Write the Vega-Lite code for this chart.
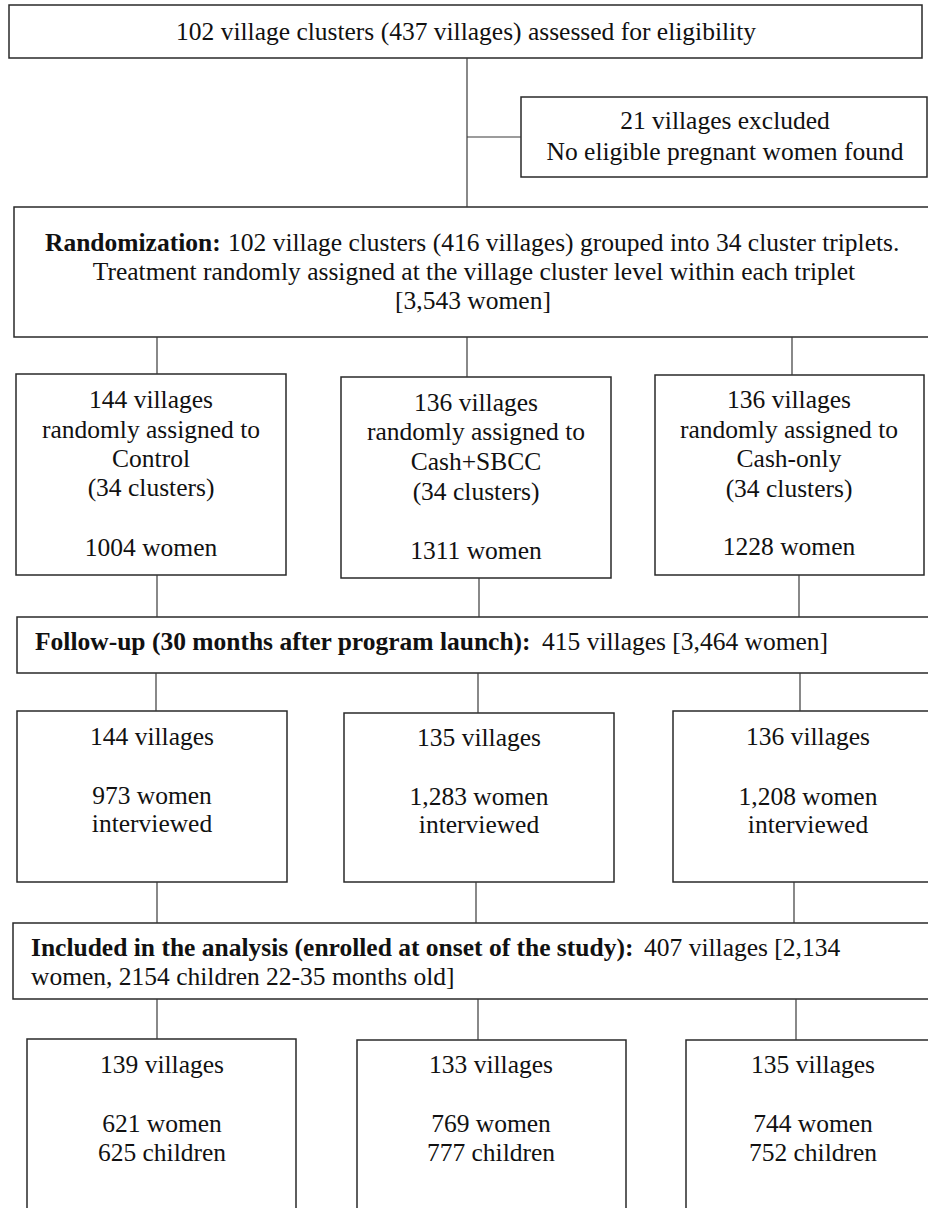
{
  "$schema": "https://vega.github.io/schema/vega-lite/v6.json",
  "width": 928,
  "height": 1208,
  "padding": 0,
  "autosize": {"type": "fit", "contains": "padding"},
  "background": "white",
  "config": {"view": {"stroke": null}},
  "datasets": {
    "boxes": [
      {"id": "screen", "x1": 9, "x2": 922, "y1": 5, "y2": 58},
      {"id": "excluded", "x1": 521, "x2": 927, "y1": 97, "y2": 177},
      {"id": "random", "x1": 14, "x2": 932, "y1": 207, "y2": 337},
      {"id": "control", "x1": 16, "x2": 286, "y1": 374, "y2": 575},
      {"id": "cashsbcc", "x1": 341, "x2": 611, "y1": 377, "y2": 578},
      {"id": "cashonly", "x1": 655, "x2": 924, "y1": 375, "y2": 575},
      {"id": "followup", "x1": 17, "x2": 935, "y1": 617, "y2": 673},
      {"id": "fu_control", "x1": 17, "x2": 287, "y1": 711, "y2": 882},
      {"id": "fu_cashsbcc", "x1": 344, "x2": 614, "y1": 713, "y2": 882},
      {"id": "fu_cashonly", "x1": 673, "x2": 943, "y1": 711, "y2": 882},
      {"id": "included", "x1": 13, "x2": 935, "y1": 923, "y2": 999},
      {"id": "an_control", "x1": 27, "x2": 296, "y1": 1039, "y2": 1225},
      {"id": "an_cashsbcc", "x1": 357, "x2": 626, "y1": 1040, "y2": 1225},
      {"id": "an_cashonly", "x1": 686, "x2": 940, "y1": 1040, "y2": 1225}
    ],
    "links": [
      {"x1": 467, "y1": 58, "x2": 467, "y2": 207},
      {"x1": 467, "y1": 137, "x2": 521, "y2": 137},
      {"x1": 157, "y1": 337, "x2": 157, "y2": 374},
      {"x1": 467, "y1": 337, "x2": 467, "y2": 377},
      {"x1": 792, "y1": 337, "x2": 792, "y2": 375},
      {"x1": 157, "y1": 575, "x2": 157, "y2": 617},
      {"x1": 479, "y1": 578, "x2": 479, "y2": 617},
      {"x1": 799, "y1": 575, "x2": 799, "y2": 617},
      {"x1": 156, "y1": 673, "x2": 156, "y2": 711},
      {"x1": 478, "y1": 673, "x2": 478, "y2": 713},
      {"x1": 800, "y1": 673, "x2": 800, "y2": 711},
      {"x1": 157, "y1": 882, "x2": 157, "y2": 923},
      {"x1": 476, "y1": 882, "x2": 476, "y2": 923},
      {"x1": 794, "y1": 882, "x2": 794, "y2": 923},
      {"x1": 157, "y1": 999, "x2": 157, "y2": 1039},
      {"x1": 478, "y1": 999, "x2": 478, "y2": 1040},
      {"x1": 796, "y1": 999, "x2": 796, "y2": 1040}
    ],
    "centered": [
      {"x": 466, "y": 32, "t": "102 village clusters (437 villages) assessed for eligibility"},
      {"x": 725, "y": 121, "t": "21 villages excluded"},
      {"x": 725, "y": 152, "t": "No eligible pregnant women found"},
      {"x": 474, "y": 272, "t": "Treatment randomly assigned at the village cluster level within each triplet"},
      {"x": 473, "y": 301, "t": "[3,543 women]"},
      {"x": 151, "y": 400, "t": "144 villages"},
      {"x": 151, "y": 430, "t": "randomly assigned to"},
      {"x": 151, "y": 459, "t": "Control"},
      {"x": 151, "y": 488, "t": "(34 clusters)"},
      {"x": 151, "y": 548, "t": "1004 women"},
      {"x": 476, "y": 403, "t": "136 villages"},
      {"x": 476, "y": 432, "t": "randomly assigned to"},
      {"x": 476, "y": 462, "t": "Cash+SBCC"},
      {"x": 476, "y": 492, "t": "(34 clusters)"},
      {"x": 476, "y": 551, "t": "1311 women"},
      {"x": 789, "y": 400, "t": "136 villages"},
      {"x": 789, "y": 430, "t": "randomly assigned to"},
      {"x": 789, "y": 459, "t": "Cash-only"},
      {"x": 789, "y": 489, "t": "(34 clusters)"},
      {"x": 789, "y": 547, "t": "1228 women"},
      {"x": 152, "y": 737, "t": "144 villages"},
      {"x": 152, "y": 796, "t": "973 women"},
      {"x": 152, "y": 824, "t": "interviewed"},
      {"x": 479, "y": 738, "t": "135 villages"},
      {"x": 479, "y": 797, "t": "1,283 women"},
      {"x": 479, "y": 825, "t": "interviewed"},
      {"x": 808, "y": 737, "t": "136 villages"},
      {"x": 808, "y": 797, "t": "1,208 women"},
      {"x": 808, "y": 825, "t": "interviewed"},
      {"x": 162, "y": 1065, "t": "139 villages"},
      {"x": 162, "y": 1124, "t": "621 women"},
      {"x": 162, "y": 1153, "t": "625 children"},
      {"x": 491, "y": 1065, "t": "133 villages"},
      {"x": 491, "y": 1124, "t": "769 women"},
      {"x": 491, "y": 1153, "t": "777 children"},
      {"x": 813, "y": 1065, "t": "135 villages"},
      {"x": 813, "y": 1124, "t": "744 women"},
      {"x": 813, "y": 1153, "t": "752 children"}
    ],
    "leftplain": [
      {"x": 228, "y": 243, "t": "102 village clusters (416 villages) grouped into 34 cluster triplets."},
      {"x": 542, "y": 642, "t": "415 villages [3,464 women]"},
      {"x": 644, "y": 948, "t": "407 villages [2,134"},
      {"x": 31, "y": 977, "t": "women, 2154 children 22-35 months old]"}
    ],
    "leftbold": [
      {"x": 45, "y": 243, "t": "Randomization:"},
      {"x": 35, "y": 642, "t": "Follow-up (30 months after program launch):"},
      {"x": 31, "y": 948, "t": "Included in the analysis (enrolled at onset of the study):"}
    ]
  },
  "layer": [
    {
      "data": {"name": "boxes"},
      "mark": {"type": "rect", "fill": "white", "stroke": "#2a2a2a", "strokeWidth": 1.5, "clip": true},
      "encoding": {
        "x": {"field": "x1", "type": "quantitative", "scale": {"domain": [0, 928], "nice": false, "zero": false}, "axis": null},
        "x2": {"field": "x2"},
        "y": {"field": "y1", "type": "quantitative", "scale": {"domain": [0, 1208], "nice": false, "zero": false, "reverse": true}, "axis": null},
        "y2": {"field": "y2"}
      }
    },
    {
      "data": {"name": "links"},
      "mark": {"type": "rule", "stroke": "#3a3a3a", "strokeWidth": 1.2, "clip": true},
      "encoding": {
        "x": {"field": "x1", "type": "quantitative"},
        "x2": {"field": "x2"},
        "y": {"field": "y1", "type": "quantitative"},
        "y2": {"field": "y2"}
      }
    },
    {
      "data": {"name": "centered"},
      "mark": {"type": "text", "font": "Liberation Serif", "fontSize": 25.5, "align": "center", "baseline": "middle", "color": "#111"},
      "encoding": {
        "x": {"field": "x", "type": "quantitative"},
        "y": {"field": "y", "type": "quantitative"},
        "text": {"field": "t", "type": "nominal"}
      }
    },
    {
      "data": {"name": "leftplain"},
      "mark": {"type": "text", "font": "Liberation Serif", "fontSize": 25.5, "align": "left", "baseline": "middle", "color": "#111"},
      "encoding": {
        "x": {"field": "x", "type": "quantitative"},
        "y": {"field": "y", "type": "quantitative"},
        "text": {"field": "t", "type": "nominal"}
      }
    },
    {
      "data": {"name": "leftbold"},
      "mark": {"type": "text", "font": "Liberation Serif", "fontSize": 25.5, "fontWeight": "bold", "align": "left", "baseline": "middle", "color": "#111"},
      "encoding": {
        "x": {"field": "x", "type": "quantitative"},
        "y": {"field": "y", "type": "quantitative"},
        "text": {"field": "t", "type": "nominal"}
      }
    }
  ]
}
